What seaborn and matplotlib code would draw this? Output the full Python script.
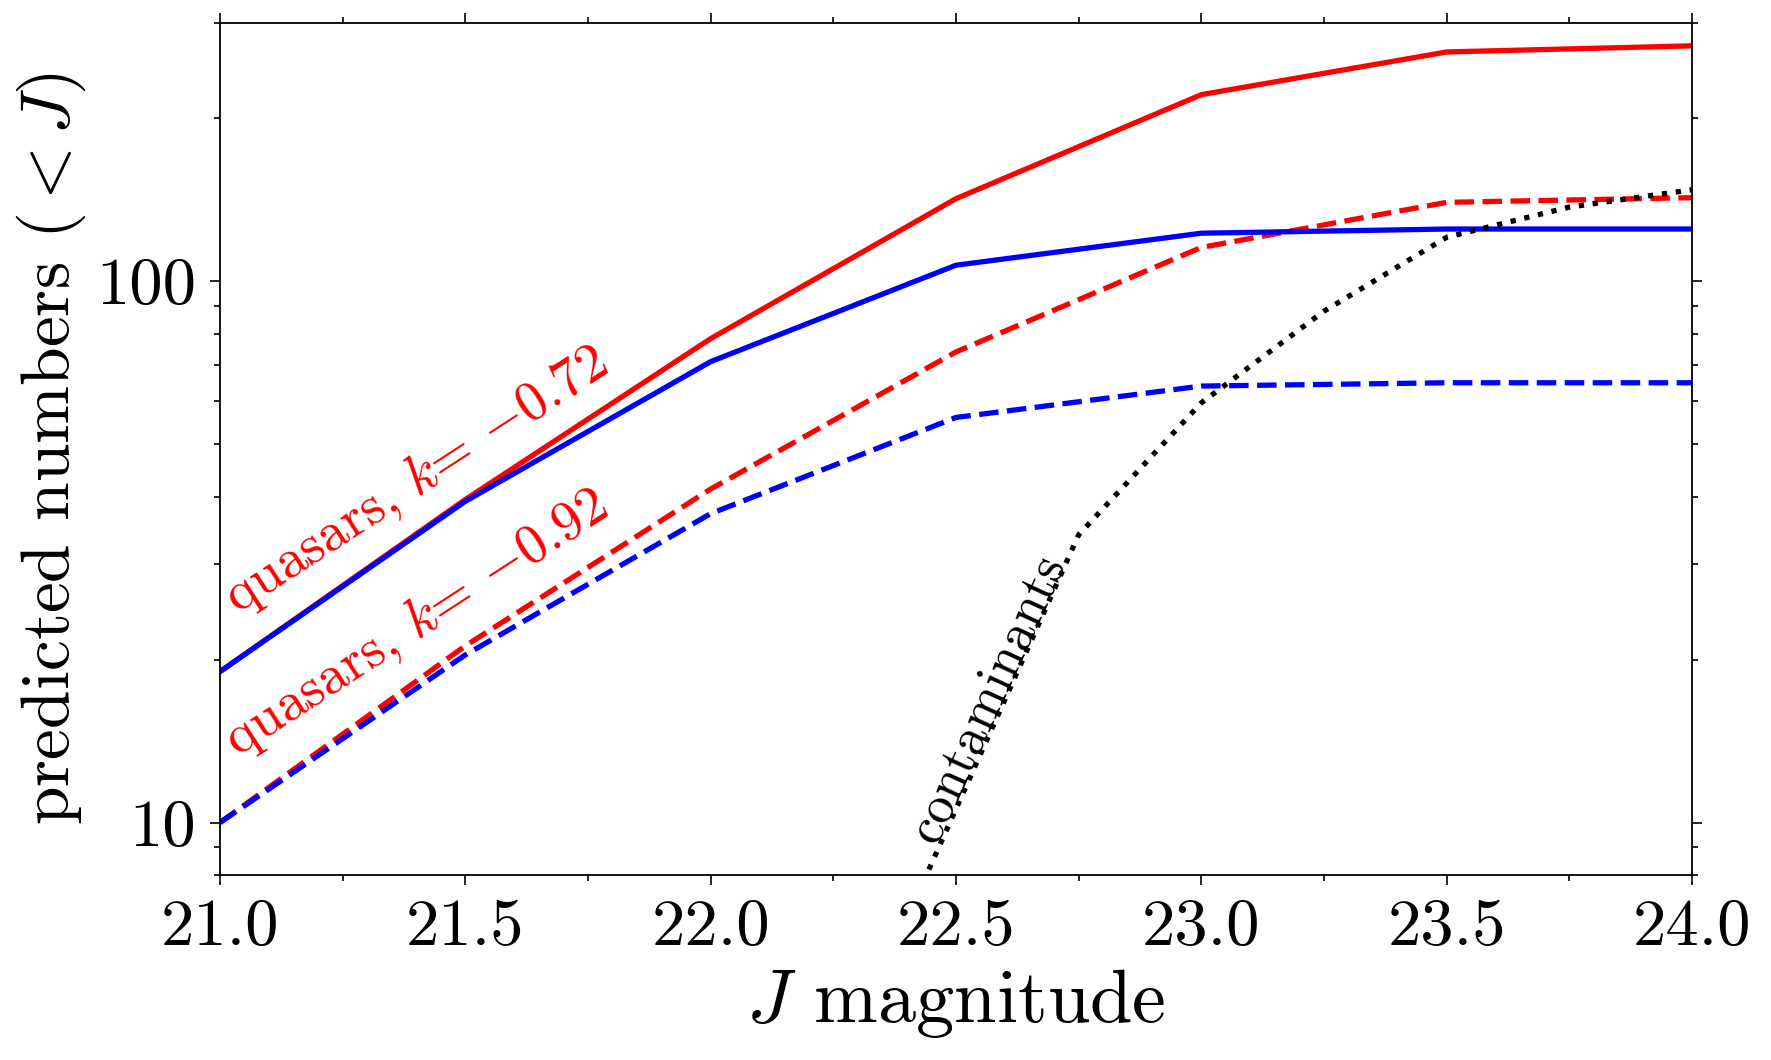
import numpy as np
import pandas as pd
import matplotlib
matplotlib.use("Agg")
import matplotlib.pyplot as plt
import matplotlib.ticker as mticker
import seaborn as sns

# J magnitude grid and cumulative predicted numbers (< J)
jmag = [21.0, 21.5, 22.0, 22.5, 23.0, 23.5, 24.0]
qso_k072_red = [19.0, 39.5, 78.3, 142.0, 221.0, 265.0, 272.0]
qso_k072_blue = [19.0, 39.2, 71.0, 107.0, 122.6, 124.8, 124.8]
qso_k092_red = [10.0, 21.2, 41.3, 74.0, 115.4, 139.8, 142.6]
qso_k092_blue = [10.0, 20.4, 37.2, 56.0, 64.0, 64.9, 64.9]

# contaminants on a finer grid
jmag_cont = [22.25, 22.5, 22.75, 23.0, 23.25, 23.5, 23.75, 24.0]
contaminants = [3.3, 10.6, 34.0, 59.6, 88.0, 120.5, 137.0, 147.5]

sns.set_style("ticks")
plt.rcParams["font.family"] = ["cmr10"]
plt.rcParams["mathtext.fontset"] = "cm"
plt.rcParams["axes.unicode_minus"] = False
plt.rcParams["axes.formatter.use_mathtext"] = True
for key in ["text.color", "axes.labelcolor", "axes.edgecolor",
            "xtick.color", "ytick.color"]:
    plt.rcParams[key] = "black"

fig = plt.figure(figsize=(17.71, 10.60), dpi=100)
ax = fig.add_axes([0.1242, 0.1745, 0.8312, 0.8040])

lw = 3.8
sns.lineplot(x=jmag, y=qso_k072_red, color="#ff0000", lw=lw, ax=ax)
sns.lineplot(x=jmag, y=qso_k092_red, color="#ff0000", lw=lw, linestyle="--", ax=ax)
sns.lineplot(x=jmag, y=qso_k072_blue, color="#0000ff", lw=lw, ax=ax)
sns.lineplot(x=jmag, y=qso_k092_blue, color="#0000ff", lw=lw, linestyle="--", ax=ax)
sns.lineplot(x=jmag_cont, y=contaminants, color="black", lw=lw, linestyle=":", ax=ax)

ax.set_yscale("log")
ax.set_xlim(21.0, 24.0)
ax.set_ylim(8, 300)

ax.xaxis.set_major_locator(mticker.MultipleLocator(0.5))
ax.xaxis.set_minor_locator(mticker.MultipleLocator(0.25))
ax.xaxis.set_major_formatter(mticker.FormatStrFormatter("%.1f"))
ax.yaxis.set_major_formatter(mticker.FuncFormatter(lambda v, _: f"{v:g}"))
ax.yaxis.set_minor_formatter(mticker.NullFormatter())

ax.tick_params(which="both", direction="out", top=True, right=True,
               width=1.2, labelsize=48, pad=10)
ax.tick_params(which="major", length=7)
ax.tick_params(which="minor", length=4)
for sp in ax.spines.values():
    sp.set_linewidth(1.3)

ax.set_xlabel("$J$ magnitude", fontsize=55, labelpad=6)
ax.set_ylabel("predicted numbers $(<J)$", fontsize=50, labelpad=6)

ax.text(21.035, 24.3, r"quasars, $k$= $-0.72$", color="#ff0000", fontsize=40,
        rotation=33, rotation_mode="anchor", ha="left", va="baseline")
ax.text(21.035, 13.2, r"quasars, $k$= $-0.92$", color="#ff0000", fontsize=40,
        rotation=33, rotation_mode="anchor", ha="left", va="baseline")
ax.text(22.459, 9.06, "contaminants", color="black", fontsize=38,
        rotation=65.4, rotation_mode="anchor", ha="left", va="baseline")

fig.savefig("out.png", dpi=100)
